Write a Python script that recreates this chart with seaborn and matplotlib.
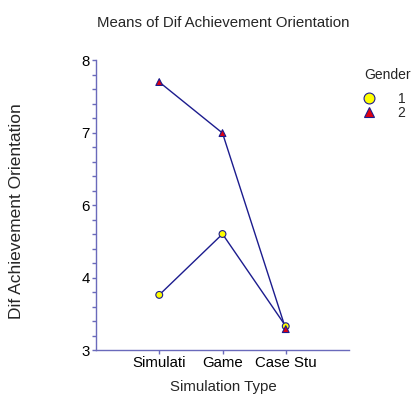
import pandas as pd
import seaborn as sns
import matplotlib.pyplot as plt
from matplotlib.ticker import MultipleLocator

# values
sim_types = ["Simulati", "Game", "Case Stu"]
gender_1 = [3.95, 5.00, 3.41]
gender_2 = [7.62, 6.74, 3.36]
y_ticks = [3, 4.25, 5.5, 6.75, 8]
y_tick_labels = ["3", "4", "6", "7", "8"]

df = pd.DataFrame({
    "Simulation Type": sim_types * 2,
    "Mean": gender_1 + gender_2,
    "Gender": ["1"] * 3 + ["2"] * 3,
})

sns.set_style("white")
plt.rcParams["font.family"] = ["Liberation Sans", "DejaVu Sans"]

axis_col = "#6a6abb"
line_col = "#1c1c8e"

fig = plt.figure(figsize=(4.14, 3.98), dpi=100)
ax = fig.add_axes([96 / 414, 48 / 398, 253 / 414, 290 / 398])

sns.lineplot(data=df, x="Simulation Type", y="Mean", hue="Gender",
             palette=[line_col, line_col], sort=False, linewidth=1.0,
             legend=False, ax=ax)
sns.scatterplot(data=df, x="Simulation Type", y="Mean", hue="Gender",
                style="Gender", markers={"1": "o", "2": "^"},
                palette={"1": "#ffff00", "2": "#e00010"},
                edgecolor=line_col, linewidth=0.8, s=24, zorder=3, ax=ax)

ax.set_xlim(-1, 3)
ax.set_ylim(3, 8)
ax.set_yticks(y_ticks)
ax.set_yticklabels(y_tick_labels)
ax.yaxis.set_minor_locator(MultipleLocator(0.25))

sns.despine(ax=ax)
for s in ["left", "bottom"]:
    ax.spines[s].set_color(axis_col)
    ax.spines[s].set_linewidth(1.0)
ax.tick_params(axis="both", which="both", direction="out", color=axis_col,
               labelsize=10.8, labelcolor="black", pad=1.5)
ax.tick_params(axis="both", which="major", length=3, width=1, left=True, bottom=True)
ax.tick_params(axis="y", which="minor", length=3, width=1, left=True)

ax.set_xlabel("Simulation Type", fontsize=10.8)
ax.xaxis.set_label_coords(0.502, -0.105)
ax.set_ylabel("")
fig.text(17 / 414, 1 - 211 / 398, "Dif Achievement Orientation", rotation=90,
         ha="center", va="center", fontsize=12.5)
fig.text(223 / 414, 1 - 23 / 398, "Means of Dif Achievement Orientation",
         ha="center", va="center", fontsize=10.8)

# legend: entries from the scatter, heading placed above it
sns.move_legend(ax, "upper left", bbox_to_anchor=(363 / 414, 1 - 92 / 398),
                bbox_transform=fig.transFigure, frameon=False, title=None,
                fontsize=10, borderpad=0, borderaxespad=0,
                handlelength=0.9, handletextpad=1.6, labelspacing=0.0,
                markerscale=1.6)
fig.text(364 / 414, 1 - 75 / 398, "Gender", ha="left", va="center", fontsize=10)

fig.savefig("out.png", dpi=100)
